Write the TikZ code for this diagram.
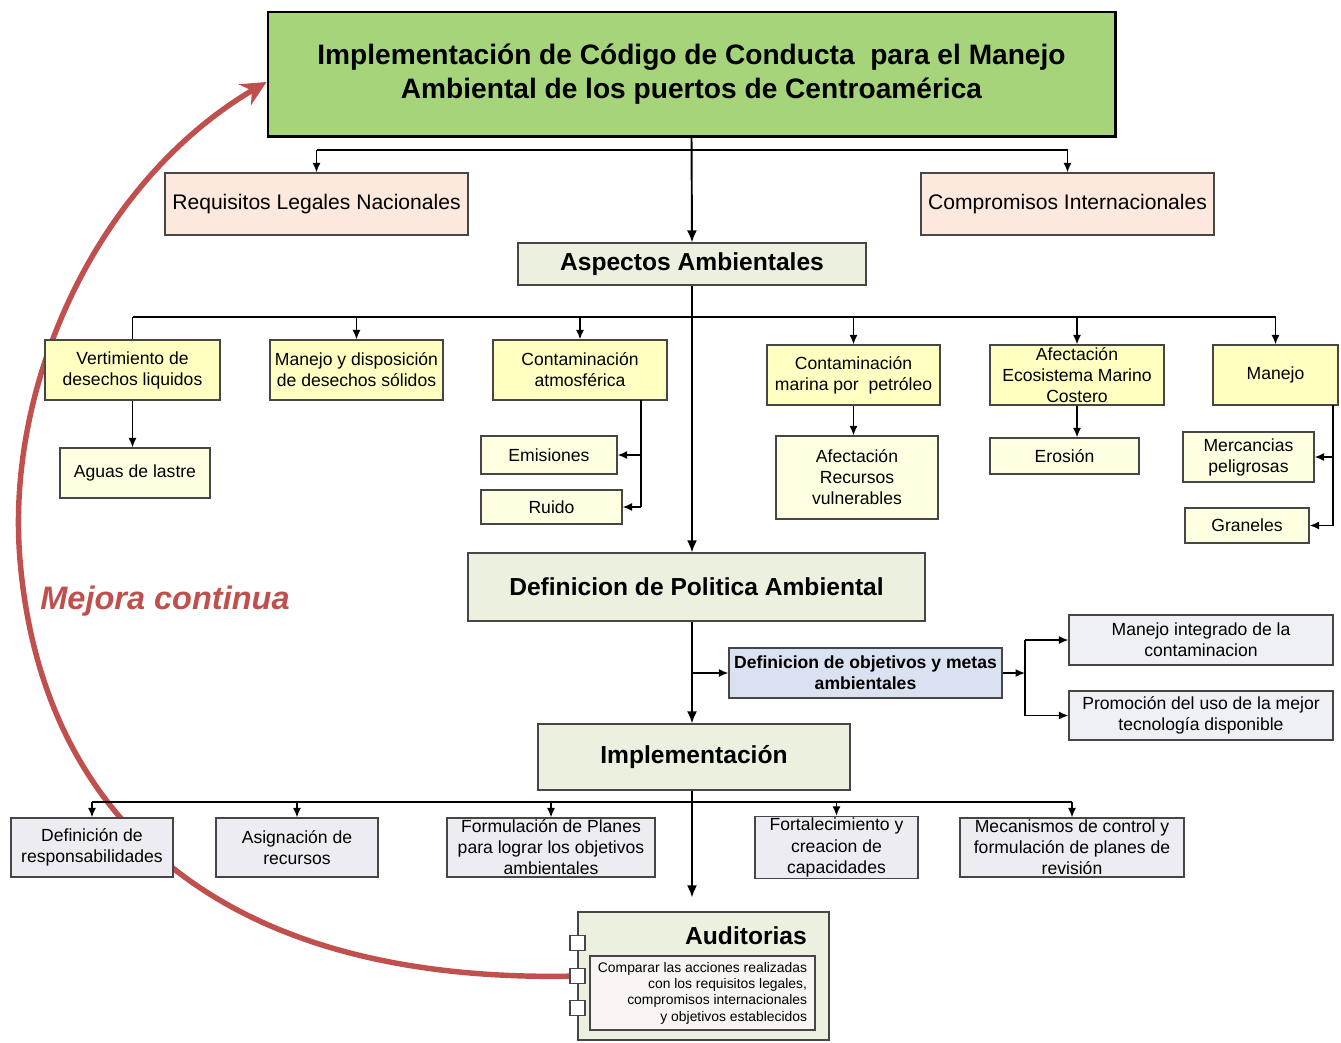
\documentclass[tikz,border=0pt]{standalone}
\usepackage{fontspec}
\setmainfont{Liberation Sans}
\usetikzlibrary{calc}
\usetikzlibrary{positioning}
\usetikzlibrary{arrows.meta}

\definecolor{titlegreen}{RGB}{166,212,122}
\definecolor{palegreen}{RGB}{235,241,222}
\definecolor{peach}{RGB}{252,232,220}
\definecolor{aspyellow}{RGB}{255,255,194}
\definecolor{subyellow}{RGB}{255,255,226}
\definecolor{objblue}{RGB}{218,225,240}
\definecolor{greyblue}{RGB}{238,240,245}
\definecolor{lavgrey}{RGB}{238,236,243}
\definecolor{pinkwhite}{RGB}{250,243,243}
\definecolor{loopred}{RGB}{192,80,77}
\definecolor{boxline}{RGB}{70,70,70}

\pgfdeclarelayer{background}
\pgfsetlayers{background,main}

\begin{document}
\begin{tikzpicture}[x=0.02cm, y=-0.02cm,
    wh/.style 2 args={minimum width=#1*0.02cm, minimum height=#2*0.02cm},
    box/.style={draw=boxline, line width=0.7pt, align=center, inner sep=1pt,
      font=\fontsize{10}{12}\selectfont},
    head/.style={box, fill=palegreen, font=\bfseries\fontsize{14}{16}\selectfont},
    aspect/.style={box, fill=aspyellow},
    sub/.style={box, fill=subyellow},
    task/.style={box, fill=lavgrey},
    goal/.style={box, fill=greyblue},
    sqbox/.style={draw=boxline, line width=0.6pt, fill=white, minimum size=0.3cm, inner sep=0pt},
    line/.style={draw=black, line width=0.8pt},
    arr/.style={line, -{Latex[length=1.9mm,width=1.6mm]}},
    spine/.style={line width=1.1pt, -{Latex[length=2.4mm,width=2mm]}},
    loop/.style={draw=loopred, line width=3.1pt, -{Stealth[length=5mm,width=4.8mm]}}]
  \useasboundingbox (0,0) rectangle (1341,1042);

  % top level
  \node[box, fill=titlegreen, draw=black, line width=1.7pt, wh={847}{124},
    font=\bfseries\fontsize{16}{19}\selectfont] (title) at (691.5,74)
    {Implementación de Código de Conducta\ \ para el Manejo\\Ambiental de los puertos de Centroamérica};
  \node[box, fill=peach, wh={303}{62}, font=\fontsize{12}{14}\selectfont] (req) at (316.5,204) {Requisitos Legales Nacionales};
  \node[box, fill=peach, wh={293}{62}, font=\fontsize{12}{14}\selectfont] (comp) at (1067.5,204) {Compromisos Internacionales};
  \node[head, wh={348}{42}] (asp) at (692,264) {Aspectos Ambientales};

  % aspects
  \node[aspect, wh={175}{60}] (v1) at (132.5,370) {Vertimiento de\\desechos liquidos};
  \node[aspect, wh={173}{60}] (v2) at (356.5,370) {Manejo y disposición\\de desechos sólidos};
  \node[aspect, wh={174}{60}] (v3) at (580,370) {Contaminación\\atmosférica};
  \node[aspect, wh={173}{60}] (v4) at (853.5,375) {Contaminación\\marina por\ \ petróleo};
  \node[aspect, wh={174}{60}] (v5) at (1077,375) {Afectación\\Ecosistema Marino\\Costero};
  \node[aspect, wh={125}{60}] (v6) at (1275.5,375) {Manejo};

  \node[sub, wh={150}{50}] (agua) at (135,473) {Aguas de lastre};
  \node[sub, wh={136}{38}] (emis) at (549,455) {Emisiones};
  \node[sub, wh={141}{34}] (ruido) at (551.5,507) {Ruido};
  \node[sub, wh={162}{83}] (afect) at (857,477.5) {Afectación\\Recursos\\vulnerables};
  \node[sub, wh={149}{36}] (eros) at (1064.5,456) {Erosión};
  \node[sub, wh={131}{50}] (merc) at (1248.5,457) {Mercancias\\peligrosas};
  \node[sub, wh={124}{35}] (gran) at (1247,525.5) {Graneles};

  % policy and objectives
  \node[head, wh={457}{68}] (pol) at (696.5,587) {Definicion de Politica Ambiental};
  \node[box, fill=objblue, wh={273}{50}, font=\bfseries\fontsize{10}{12}\selectfont] (obj) at (865.5,673)
    {Definicion de objetivos y metas\\ambientales};
  \node[goal, wh={264}{50}] (mi) at (1201,640) {Manejo integrado de la\\contaminacion};
  \node[goal, wh={264}{49}] (prom) at (1201,715.5) {Promoción del uso de la mejor\\tecnología disponible};

  % implementation
  \node[head, wh={312}{66}] (impl) at (694,757) {Implementación};
  \node[task, wh={162}{59}] (resp) at (92,847.5) {Definición de\\responsabilidades};
  \node[task, wh={162}{59}] (asig) at (297,847.5) {Asignación de\\recursos};
  \node[task, wh={208}{59}] (form) at (551,847.5) {Formulación de Planes\\para lograr los objetivos\\ambientales};
  \node[task, wh={163}{59}] (fort) at (836.5,847.5) {Fortalecimiento y\\creacion de\\capacidades};
  \node[task, wh={224}{59}] (meca) at (1072,847.5) {Mecanismos de control y\\formulación de planes de\\revisión};

  % audit
  \node[box, fill=palegreen, wh={251}{128}] (aud) at (703.5,976) {};
  \node[font=\bfseries\fontsize{14}{16}\selectfont] (audt) at (746,936) {Auditorias};
  \node[box, fill=pinkwhite, wh={225}{74}, align=right, inner sep=2pt,
    font=\fontsize{7.9}{9.3}\selectfont] (audin) at (702.5,993)
    {Comparar las acciones realizadas\\con los requisitos legales,\\compromisos internacionales\\y objetivos establecidos};
  \node[sqbox] (sq1) at (577.5,943) {};
  \node[sqbox] (sq2) at (577.5,976) {};
  \node[sqbox] (sq3) at (577.5,1008) {};

  \node[text=loopred, font=\bfseries\itshape\fontsize{18.5}{20}\selectfont] (mejora) at (165,601) {Mejora continua};

  % connectors
  \coordinate (bus1) at (692,150);
  \coordinate (bus2) at (692,317);
  \coordinate (bus3) at (692,802);
  \coordinate (sp) at (692,673);
  \coordinate (fk) at (1025,673);
  \coordinate (v3d) at (641,400);
  \coordinate (v6d) at (1333,405);

  \draw[spine] (title.south) -- (asp.north);
  \draw[line] (req.north |- bus1) -- (comp.north |- bus1);
  \draw[arr] (req.north |- bus1) -- (req.north);
  \draw[arr] (comp.north |- bus1) -- (comp.north);

  \draw[spine] (asp.south) -- (asp.south |- pol.north);
  \draw[line] (v1.north |- bus2) -- (v6.north |- bus2);
  \draw[line] (v1.north |- bus2) -- (v1.north);
  \foreach \n in {v2, v3, v4, v5, v6}
    \draw[arr] (\n.north |- bus2) -- (\n.north);

  \draw[arr] (v1.south) -- (v1.south |- agua.north);
  \draw[line] (v3d) -- (v3d |- ruido.east);
  \draw[arr] (v3d |- emis.east) -- (emis.east);
  \draw[arr] (v3d |- ruido.east) -- (ruido.east);
  \draw[arr] (v4.south) -- (v4.south |- afect.north);
  \draw[arr] (v5.south) -- (v5.south |- eros.north);
  \draw[line] (v6d) -- (v6d |- gran.east);
  \draw[arr] (v6d |- merc.east) -- (merc.east);
  \draw[arr] (v6d |- gran.east) -- (gran.east);

  \draw[spine] (sp |- pol.south) -- (sp |- impl.north);
  \draw[arr] (sp) -- (obj.west);
  \draw[arr] (obj.east) -- (fk);
  \draw[line] (fk |- mi.west) -- (fk |- prom.west);
  \draw[arr] (fk |- mi.west) -- (mi.west);
  \draw[arr] (fk |- prom.west) -- (prom.west);

  \draw[spine, shorten >=0.28cm] (sp |- impl.south) -- (sp |- aud.north);
  \draw[line] (resp.north |- bus3) -- (meca.north |- bus3);
  \foreach \n in {resp, asig, form, fort, meca}
    \draw[arr] (\n.north |- bus3) -- (\n.north);

  % improvement loop
  \begin{pgfonlayer}{background}
    \draw[loop] (sq2.center) .. controls (200,985) and (40,800) .. (20,560)
      .. controls (5,380) and (100,180) .. ($(title.west)+(0,8)$);
  \end{pgfonlayer}
\end{tikzpicture}
\end{document}
